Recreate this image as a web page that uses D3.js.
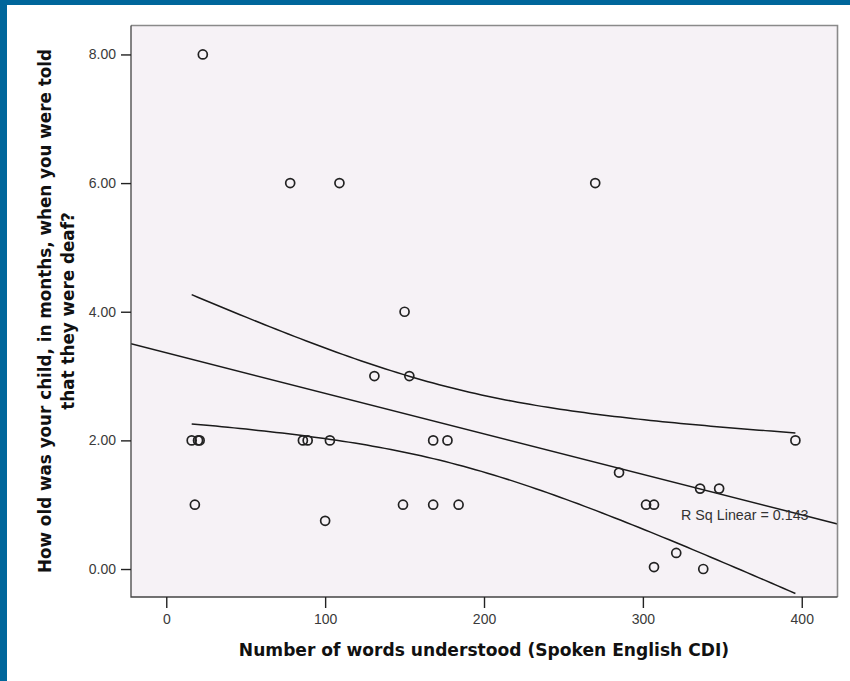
<!DOCTYPE html>
<html><head><meta charset="utf-8">
<script src="https://cdn.jsdelivr.net/npm/d3@7"></script>
<style>
html,body{margin:0;padding:0;background:#fff;}
svg{display:block;}
</style></head>
<body>
<script>
// Data
const wordsUnderstood = [23, 78, 109, 270, 150, 131, 153, 16, 20, 21, 86, 89, 103, 168, 177, 396, 285, 336, 348, 18, 149, 168, 184, 302, 307, 100, 321, 307, 338];
const ageToldDeaf     = [8, 6, 6, 6, 4, 3, 3, 2, 2, 2, 2, 2, 2, 2, 2, 2, 1.5, 1.25, 1.25, 1, 1, 1, 1, 1, 1, 0.75, 0.25, 0.03, 0];
const xTicks = [0, 100, 200, 300, 400];
const yTicks = [0, 2, 4, 6, 8];
const rSqLabel = "R Sq Linear = 0.143";
const xTitle = "Number of words understood (Spoken English CDI)";
const yTitleLines = ["How old was your child, in months, when you were told", "that they were deaf?"];
const ciT = 1.70; // t multiplier of the mean-confidence band as drawn

const W = 850, H = 681;
const svg = d3.select("body").append("svg").attr("width", W).attr("height", H);

// Blue frame
svg.append("rect").attr("x",0).attr("y",0).attr("width",W).attr("height",H).attr("fill","#00669b");
svg.append("rect").attr("x",7).attr("y",5).attr("width",W-7).attr("height",H-5).attr("fill","#fff");

const plot = {left:131, top:25.5, right:837.5, bottom:597};
const x = d3.scaleLinear().domain([-22.2, 422.5]).range([plot.left, plot.right]);
const y = d3.scaleLinear().domain([-0.435, 8.45]).range([plot.bottom, plot.top]);

svg.append("rect").attr("x",plot.left).attr("y",plot.top)
  .attr("width",plot.right-plot.left).attr("height",plot.bottom-plot.top)
  .attr("fill","#f6f2f6");

// Regression and CI
const pts = wordsUnderstood.map((v,i)=>[v, ageToldDeaf[i]]);
const n = pts.length;
const mx = d3.mean(pts, d=>d[0]), my = d3.mean(pts, d=>d[1]);
const sxx = d3.sum(pts, d=>(d[0]-mx)**2);
const sxy = d3.sum(pts, d=>(d[0]-mx)*(d[1]-my));
const b = sxy/sxx, a = my - b*mx;
const sse = d3.sum(pts, d=>(d[1]-(a+b*d[0]))**2);
const s = Math.sqrt(sse/(n-2));
const xmin = d3.min(wordsUnderstood), xmax = d3.max(wordsUnderstood);
const grid = d3.range(0, 101).map(i => xmin + (xmax-xmin)*i/100);
const half = xv => ciT*s*Math.sqrt(1/n + (xv-mx)**2/sxx);

const clipId = "clipPlot";
svg.append("clipPath").attr("id",clipId).append("rect")
  .attr("x",plot.left).attr("y",plot.top).attr("width",plot.right-plot.left).attr("height",plot.bottom-plot.top);

const g = svg.append("g").attr("clip-path",`url(#${clipId})`);
const line = d3.line().x(d=>x(d[0])).y(d=>y(d[1]));
g.append("path").attr("d", line([[x.domain()[0], a+b*x.domain()[0]],[x.domain()[1], a+b*x.domain()[1]]]))
  .attr("fill","none").attr("stroke","#1a1a1a").attr("stroke-width",1.5);
g.append("path").attr("d", line(grid.map(v=>[v, a+b*v+half(v)])))
  .attr("fill","none").attr("stroke","#1a1a1a").attr("stroke-width",1.5);
g.append("path").attr("d", line(grid.map(v=>[v, a+b*v-half(v)])))
  .attr("fill","none").attr("stroke","#1a1a1a").attr("stroke-width",1.5);

// Points
svg.append("g").selectAll("circle").data(pts).join("circle")
  .attr("cx", d=>x(d[0])).attr("cy", d=>y(d[1])).attr("r", 4.5)
  .attr("fill","none").attr("stroke","#222").attr("stroke-width",1.7);

// R Sq label
svg.append("text").attr("x", 681).attr("y", 519.5)
  .attr("font-family","Liberation Sans, Arial, sans-serif").attr("font-size",14.3)
  .attr("fill","#333").text(rSqLabel);

// Frame
svg.append("path").attr("d",`M${plot.left},${plot.top}H${plot.right}V${plot.bottom}`)
  .attr("fill","none").attr("stroke","#8a8a8a").attr("stroke-width",1.6);
svg.append("path").attr("d",`M${plot.left},${plot.top}V${plot.bottom}H${plot.right}`)
  .attr("fill","none").attr("stroke","#444").attr("stroke-width",1.3);

// Axes
const tickFont = "Liberation Sans, Arial, sans-serif";
const xAxis = d3.axisBottom(x).tickValues(xTicks).tickSize(11).tickFormat(d3.format("d"));
const gx = svg.append("g").attr("transform",`translate(0,${plot.bottom})`).call(xAxis);
gx.select(".domain").remove();
gx.selectAll(".tick line").attr("stroke","#222").attr("stroke-width",1.4);
gx.selectAll(".tick text").attr("font-family",tickFont).attr("font-size",14).attr("fill","#3a3a3a")
  .attr("y",17).attr("dy","0.71em");

const yAxis = d3.axisLeft(y).tickValues(yTicks).tickSize(10).tickFormat(d3.format(".2f"));
const gy = svg.append("g").attr("transform",`translate(${plot.left},0)`).call(yAxis);
gy.select(".domain").remove();
gy.selectAll(".tick line").attr("stroke","#222").attr("stroke-width",1.4);
gy.selectAll(".tick text").attr("font-family",tickFont).attr("font-size",14).attr("fill","#3a3a3a").attr("x",-15);

// Titles
svg.append("text").attr("x", 484).attr("y", 656).attr("text-anchor","middle")
  .attr("font-family","DejaVu Sans, sans-serif").attr("font-weight","bold").attr("font-size",17.1)
  .attr("fill","#111").text(xTitle);
const yt = svg.append("text").attr("transform","translate(0,311) rotate(-90)")
  .attr("text-anchor","middle").attr("font-family","DejaVu Sans, sans-serif").attr("font-weight","bold")
  .attr("font-size",16.8).attr("fill","#111");
yTitleLines.forEach((l,i)=>yt.append("tspan").attr("x",0).attr("y", 51 + i*23).text(l));
</script>
</body></html>
